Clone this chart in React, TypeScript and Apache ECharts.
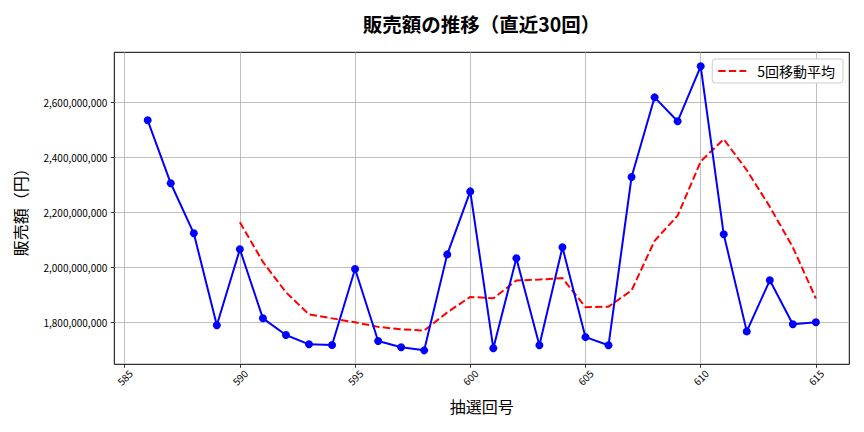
import React, { useEffect, useRef } from "react";
import * as echarts from "echarts";

const rounds = [586, 587, 588, 589, 590, 591, 592, 593, 594, 595, 596, 597, 598, 599, 600, 601, 602, 603, 604, 605, 606, 607, 608, 609, 610, 611, 612, 613, 614, 615];

const sales = [
  2534500000, 2305500000, 2123600000, 1789000000, 2065500000, 1814500000, 1753800000, 1720000000, 1717500000, 1993800000,
  1732000000, 1709000000, 1698000000, 2047000000, 2276000000, 1705500000, 2032700000, 1716400000, 2072700000, 1746000000,
  1716400000, 2328400000, 2618000000, 2531000000, 2731000000, 2120000000, 1767000000, 1952700000, 1792700000, 1800000000,
];

const movingAvg: (number | null)[] = [
  null, null, null, null, 2163600000, 2019600000, 1909300000, 1828600000, 1814300000, 1799900000,
  1783400000, 1774500000, 1770100000, 1836000000, 1892400000, 1887100000, 1951800000, 1955500000, 1960700000, 1854700000,
  1856800000, 1916000000, 2096300000, 2188000000, 2385000000, 2465700000, 2353400000, 2220300000, 2072700000, 1886500000,
];

const xTicks = [585, 590, 595, 600, 605, 610, 615];
const yTicks = [1800000000, 2000000000, 2200000000, 2400000000, 2600000000];

const titleText = "販売額の推移（直近30回）";
const xName = "抽選回号";
const yName = "販売額（円）";
const maName = "5回移動平均";

const FONT = "'Noto Sans CJK JP', 'Noto Sans', sans-serif";

export default function App() {
  const ref = useRef<HTMLDivElement>(null);
  useEffect(() => {
    if (!ref.current) return;
    const chart = echarts.init(ref.current, undefined, { renderer: "svg" });
    chart.setOption({
      animation: false,
      backgroundColor: "#ffffff",
      textStyle: { fontFamily: FONT },
      title: {
        text: titleText,
        left: 476.5,
        textAlign: "center",
        top: 9,
        textStyle: { fontSize: 19.5, fontWeight: "bold", color: "#000", fontFamily: FONT },
      },
      legend: {
        data: [maName],
        right: 21,
        top: 59,
        itemWidth: 28,
        itemHeight: 14,
        padding: [5, 8, 5, 5],
        backgroundColor: "#ffffff",
        borderColor: "#cccccc",
        borderWidth: 1,
        borderRadius: 3,
        itemStyle: { opacity: 0 },
        textStyle: { fontSize: 14, color: "#000", fontFamily: FONT, padding: [0, 0, 0, 6] },
      },
      grid: {
        left: 114.3,
        top: 52.3,
        right: 14.7,
        bottom: 67.7,
        show: true,
        borderColor: "#000",
        borderWidth: 1,
        backgroundColor: "transparent",
      },
      xAxis: {
        type: "value",
        min: 584.55,
        max: 616.45,
        name: xName,
        nameLocation: "middle",
        nameGap: 34,
        nameTextStyle: { fontSize: 16, color: "#000", fontFamily: FONT },
        axisLine: { show: false },
        axisTick: { show: true, length: 3.5, lineStyle: { color: "#000", width: 0.8 }, customValues: xTicks },
        axisLabel: {
          customValues: xTicks,
          rotate: 45,
          align: "center",
          verticalAlign: "middle",
          margin: 13,
          fontSize: 10,
          color: "#000",
          fontFamily: FONT,
        },
        splitLine: { show: true, lineStyle: { color: "#b0b0b0", width: 0.8 } },
      },
      yAxis: {
        type: "value",
        min: 1647300000,
        max: 2781800000,
        name: yName,
        nameLocation: "middle",
        nameGap: 86,
        nameTextStyle: { fontSize: 16, color: "#000", fontFamily: FONT },
        axisLine: { show: false },
        axisTick: { show: true, length: 3.5, lineStyle: { color: "#000", width: 0.8 }, customValues: yTicks },
        axisLabel: {
          customValues: yTicks,
          margin: 7,
          fontSize: 10,
          color: "#000",
          fontFamily: FONT,
          formatter: (v: number) => Math.round(v).toLocaleString("en-US"),
        },
        splitLine: { show: true, lineStyle: { color: "#b0b0b0", width: 0.8 } },
      },
      series: [
        {
          name: "販売額",
          type: "line",
          data: rounds.map((r, i) => [r, sales[i]]),
          symbol: "circle",
          symbolSize: 8,
          itemStyle: { color: "#0000ff" },
          lineStyle: { color: "#0000ff", width: 2 },
          z: 3,
        },
        {
          name: maName,
          type: "line",
          data: rounds.map((r, i) => [r, movingAvg[i]]).filter((d) => d[1] !== null),
          symbol: "none",
          itemStyle: { color: "#ff0000" },
          lineStyle: { color: "#ff0000", width: 2, type: [7.4, 3.2] },
          z: 2,
        },
      ],
    });
    return () => chart.dispose();
  }, []);
  return (
    <div
      ref={ref}
      style={{ position: "fixed", left: 0, top: 0, width: 864, height: 432 }}
    />
  );
}
